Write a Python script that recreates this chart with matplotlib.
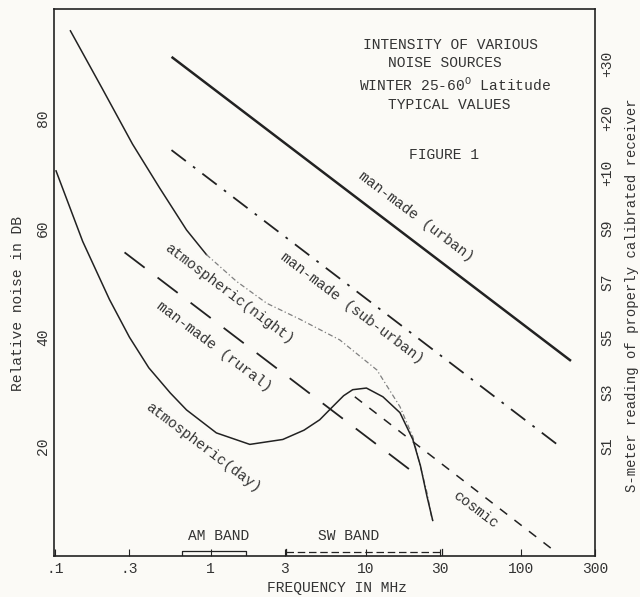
"""
Intensity of various noise sources (winter, 25-60 deg latitude) - typed chart look.
"""
import numpy as np, matplotlib
matplotlib.use('Agg')
import matplotlib.pyplot as plt

plt.rcParams['font.family'] = ['Liberation Mono', 'DejaVu Sans Mono']
plt.rcParams['mathtext.fontset'] = 'custom'
plt.rcParams['mathtext.rm'] = 'Liberation Mono'

INK = '#222222'
TXT = '#333333'
BG = '#fbfaf6'
FS = 10.5

# ── Curves (MHz, dB) ───────────────────────────────────────────────────
night_f   = [0.125, 0.20, 0.314, 0.469, 0.70, 0.94]
night_db  = [96.0, 85.5, 75.3, 67.3, 59.6, 55.1]
night2_f  = [0.94, 1.47, 2.30, 3.75, 6.8, 11.8, 16.6, 20.1, 24.8, 26.7]
night2_db = [55.1, 50.2, 46.2, 43.3, 39.5, 34.0, 27.3, 21.8, 11.6, 6.7]

day_f  = [0.101, 0.15, 0.223, 0.30, 0.40, 0.55, 0.70, 1.09, 1.79, 2.92,
          4.0, 5.05, 6.12, 7.2, 8.24, 10.1, 12.9, 16.6, 20.1, 22.5, 24.8, 27.0]
day_db = [70.4, 57.5, 46.9, 40.0, 34.4, 29.8, 26.7, 22.5, 20.4, 21.3,
          23.0, 24.9, 27.3, 29.3, 30.4, 30.7, 29.1, 26.2, 21.3, 16.5, 10.9, 6.5]

urban_f,    urban_db    = [0.569, 207], [91.1, 35.8]
suburban_f, suburban_db = [0.56, 171], [74.2, 20.4]
rural_f,    rural_db    = [0.279, 19.8], [55.5, 15.5]
cosmic_f,   cosmic_db   = [8.5, 158], [29.1, 1.3]

# band brackets along the frequency axis
band_names = ['AM BAND', 'SW BAND']
band_lo    = [0.65, 3.05]
band_hi    = [1.7, 31.0]

xticks  = [0.1, 0.3, 1, 3, 10, 30, 100, 300]
xlabels = ['.1', '.3', '1', '3', '10', '30', '100', '300']
yticks  = [20, 40, 60, 80]
sticks  = [20, 30, 40, 50, 60, 70, 80, 90]
slabels = ['S1', 'S3', 'S5', 'S7', 'S9', '+10', '+20', '+30']

fig = plt.figure(figsize=(6.4, 5.97), dpi=100, facecolor=BG)
ax = fig.add_axes([0.0844, 0.0687, 0.8453, 0.9163], facecolor=BG)

ax.plot(night_f, night_db, color=INK, lw=1.1)
ax.plot(night2_f, night2_db, color='#808080', lw=0.9, ls=(0, (4, 2, 1, 2)))
ax.plot(day_f, day_db, color=INK, lw=1.1)
ax.plot(urban_f, urban_db, color=INK, lw=1.8)
ax.plot(suburban_f, suburban_db, color=INK, lw=1.3, ls=(0, (10, 5, 1.5, 5)))
ax.plot(rural_f, rural_db, color=INK, lw=1.3, ls=(0, (14, 9)))
ax.plot(cosmic_f, cosmic_db, color=INK, lw=1.1, ls=(0, (6, 6)))

# AM / SW brackets
ax.plot([band_lo[0], band_lo[0], band_hi[0], band_hi[0]], [0, 0.9, 0.9, 0],
        color=INK, lw=0.9)
ax.plot([band_lo[1], band_hi[1]], [0.7, 0.7], color=INK, lw=0.9, ls=(0, (6, 3)))
for f in (band_lo[1], band_hi[1]):
    ax.plot([f, f], [0, 1.3], color=INK, lw=0.9)
for name, lo, hi in zip(band_names, band_lo, band_hi):
    ax.text(np.sqrt(lo * hi) * (1.08 if name.startswith('AM') else 0.8), 3.6, name,
            ha='center', va='center', fontsize=FS, color=TXT)

# curve labels along the lines
lbl = dict(ha='center', va='center', fontsize=FS, color=TXT,
           rotation=-37, rotation_mode='anchor')
ax.text(21.0, 62.0, 'man-made (urban)', **lbl)
ax.text(8.13, 45.3, 'man-made (sub-urban)', **lbl)
ax.text(1.31, 48.0, 'atmospheric(night)', **lbl)
ax.text(1.06, 38.2, 'man-made (rural)', **lbl)
ax.text(0.90, 19.8, 'atmospheric(day)', **lbl)
ax.text(51.3, 8.4, 'cosmic', **lbl)

# title block
ax.text(0.732, 0.934, 'INTENSITY OF VARIOUS', transform=ax.transAxes,
        ha='center', va='center', fontsize=FS, color=TXT)
ax.text(0.723, 0.901, 'NOISE SOURCES', transform=ax.transAxes,
        ha='center', va='center', fontsize=FS, color=TXT)
ax.text(0.741, 0.861, r'WINTER 25-60$^{\mathrm{O}}$ Latitude', transform=ax.transAxes,
        ha='center', va='center', fontsize=FS, color=TXT)
ax.text(0.730, 0.824, 'TYPICAL VALUES', transform=ax.transAxes,
        ha='center', va='center', fontsize=FS, color=TXT)
ax.text(0.721, 0.733, 'FIGURE 1', transform=ax.transAxes,
        ha='center', va='center', fontsize=FS, color=TXT)

ax.set_xscale('log')
ax.set_xlim(0.098, 300)
ax.set_ylim(0, 100)
ax.set_xticks(xticks)
ax.set_xticklabels(xlabels)
ax.minorticks_off()
ax.tick_params(axis='x', direction='in', length=5, width=0.8, pad=4,
               labelsize=FS, labelcolor=TXT, color=INK)
ax.set_yticks(yticks)
ax.set_yticklabels([str(v) for v in yticks], rotation=90, va='center')
ax.tick_params(axis='y', length=0, pad=3, labelsize=FS, labelcolor=TXT)
ax.set_xlabel('FREQUENCY IN MHz', fontsize=FS, color=TXT)
ax.xaxis.set_label_coords(0.523, -0.046)
ax.set_ylabel('Relative noise in DB', fontsize=FS, color=TXT)
ax.yaxis.set_label_coords(-0.053, 0.461)
for s in ax.spines.values():
    s.set_color(INK)
    s.set_linewidth(1.2)

ax2 = ax.twinx()
ax2.set_ylim(0, 100)
ax2.set_yticks(sticks)
ax2.set_yticklabels(slabels, rotation=90, va='center')
ax2.tick_params(axis='y', length=0, pad=4, labelsize=FS, labelcolor=TXT)
ax2.set_ylabel('S-meter reading of properly calibrated receiver', fontsize=10, color=TXT)
ax2.yaxis.set_label_coords(1.056, 0.477)
for s in ax2.spines.values():
    s.set_visible(False)

fig.savefig('out.png', dpi=100, facecolor=BG)
plt.close(fig)
